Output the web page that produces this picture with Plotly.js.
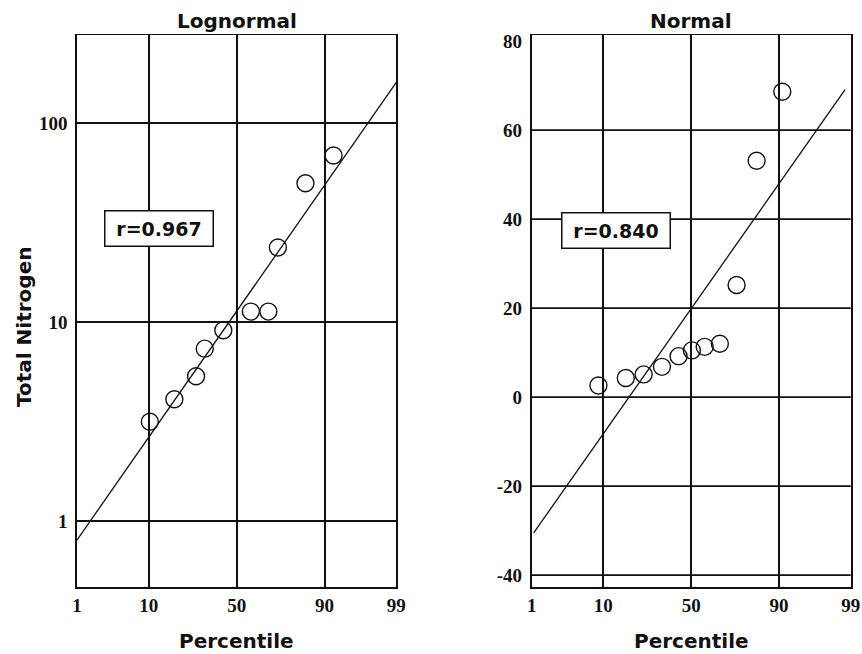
<!DOCTYPE html>
<html>
<head>
<meta charset="utf-8">
<script src="https://cdn.plot.ly/plotly-3.0.1.min.js"></script>
<style>html,body{margin:0;padding:0;background:#fff;}#chart{width:862px;height:654px;}</style>
</head>
<body>
<div id="chart"></div>
<script>
// ---- data ----
var percentileTicks = [1, 10, 50, 90, 99];
var percentileTickText = ['1', '10', '50', '90', '99'];

var logPct = [10.3, 18.2, 27.7, 32.1, 42.3, 58.2, 67.8, 72.6, 84.2, 92.1];
var logVal = [3.16, 4.10, 5.35, 7.36, 9.1, 11.3, 11.3, 23.7, 49.8, 68.6];
var logFitPct = [1, 99];
var logFitVal = [0.806, 159.7];
var logTicks = [1, 10, 100];
var logTickText = ['1', '10', '100'];

var normPct = [8.8, 17.0, 24.4, 33.5, 42.7, 50.4, 57.8, 66.2, 74.6, 83.0, 90.8];
var normVal = [2.6, 4.3, 5.1, 6.8, 9.2, 10.5, 11.3, 12.0, 25.2, 53.1, 68.6];
var normFitPct = [1.08, 98.76];
var normFitVal = [-30.5, 69.1];
var normTicks = [-40, -20, 0, 20, 40, 60, 80];
var normTickText = ['-40', '-20', '0', '20', '40', '60', '80'];
var normGrid = [-40, -20, 0, 20, 40, 60];

var panelTitles = ['Lognormal', 'Normal'];
var rLabels = ['r=0.967', 'r=0.840'];
var xTitle = 'Percentile';
var yTitle = 'Total Nitrogen';

// ---- normal probability scale (inverse normal CDF, Acklam) ----
function qnorm(p) {
  var a = [-3.969683028665376e+01, 2.209460984245205e+02, -2.759285104469687e+02, 1.383577518672690e+02, -3.066479806614716e+01, 2.506628277459239e+00];
  var b = [-5.447609879822406e+01, 1.615858368580409e+02, -1.556989798598866e+02, 6.680131188771972e+01, -1.328068155288572e+01];
  var c = [-7.784894002430293e-03, -3.223964580411365e-01, -2.400758277161838e+00, -2.549732539343734e+00, 4.374664141464968e+00, 2.938163982698783e+00];
  var d = [7.784695709041462e-03, 3.224671290700398e-01, 2.445134137142996e+00, 3.754408661907416e+00];
  var pl = 0.02425, q, r;
  if (p < pl) {
    q = Math.sqrt(-2 * Math.log(p));
    return (((((c[0]*q+c[1])*q+c[2])*q+c[3])*q+c[4])*q+c[5]) / ((((d[0]*q+d[1])*q+d[2])*q+d[3])*q+1);
  } else if (p <= 1 - pl) {
    q = p - 0.5; r = q*q;
    return (((((a[0]*r+a[1])*r+a[2])*r+a[3])*r+a[4])*r+a[5])*q / (((((b[0]*r+b[1])*r+b[2])*r+b[3])*r+b[4])*r+1);
  } else {
    q = Math.sqrt(-2 * Math.log(1 - p));
    return -(((((c[0]*q+c[1])*q+c[2])*q+c[3])*q+c[4])*q+c[5]) / ((((d[0]*q+d[1])*q+d[2])*q+d[3])*q+1);
  }
}
function toZ(arr) { return arr.map(function (v) { return qnorm(v / 100); }); }

var ink = '#111111';
var lineW = 1.8;
var tickFont = {family: '"Liberation Serif", "Times New Roman", serif', size: 19, color: ink, weight: 'bold'};
var textFont = {family: '"DejaVu Sans", Verdana, sans-serif', size: 20, color: ink, weight: 'bold'};

var marker = {symbol: 'circle-open', size: 17, color: ink, line: {color: ink, width: 1.4}};

var traces = [
  {x: toZ(logFitPct), y: logFitVal, xaxis: 'x', yaxis: 'y', mode: 'lines', line: {color: ink, width: 1.3}, hoverinfo: 'skip'},
  {x: toZ(logPct), y: logVal, xaxis: 'x', yaxis: 'y', mode: 'markers', marker: marker},
  {x: toZ(normFitPct), y: normFitVal, xaxis: 'x2', yaxis: 'y2', mode: 'lines', line: {color: ink, width: 1.3}, hoverinfo: 'skip'},
  {x: toZ(normPct), y: normVal, xaxis: 'x2', yaxis: 'y2', mode: 'markers', marker: marker}
];

var W = 862, H = 654;
var plotTop = 35.3, plotBottom = 586.7;
var yDom = [1 - plotBottom / H, 1 - plotTop / H];
var xDom1 = [77 / W, 396.3 / W];
var xDom2 = [531.7 / W, 850.7 / W];

function xAxis(dom, anchor) {
  return {
    domain: dom, anchor: anchor,
    range: [qnorm(0.01), qnorm(0.99)],
    tickmode: 'array', tickvals: toZ(percentileTicks), ticktext: percentileTickText,
    ticks: '', ticklabelstandoff: 1,
    showgrid: true, gridcolor: ink, gridwidth: lineW,
    showline: true, mirror: true, linecolor: ink, linewidth: lineW,
    zeroline: false, tickfont: tickFont, fixedrange: true
  };
}

var shapes = normGrid.map(function (v) {
  return {type: 'line', xref: 'x2 domain', yref: 'y2', x0: 0, x1: 1, y0: v, y1: v, line: {color: ink, width: lineW}, layer: 'below'};
});

function cx(dom) { return (dom[0] + dom[1]) / 2; }

var annotations = [
  {text: panelTitles[0], xref: 'paper', yref: 'paper', x: cx(xDom1), y: 1 - 21 / H, xanchor: 'center', yanchor: 'middle', showarrow: false, font: textFont},
  {text: panelTitles[1], xref: 'paper', yref: 'paper', x: cx(xDom2), y: 1 - 21 / H, xanchor: 'center', yanchor: 'middle', showarrow: false, font: textFont},
  {text: xTitle, xref: 'paper', yref: 'paper', x: cx(xDom1), y: 1 - 641 / H, xanchor: 'center', yanchor: 'middle', showarrow: false, font: textFont},
  {text: xTitle, xref: 'paper', yref: 'paper', x: cx(xDom2), y: 1 - 641 / H, xanchor: 'center', yanchor: 'middle', showarrow: false, font: textFont},
  {text: yTitle, xref: 'paper', yref: 'paper', x: 24 / W, y: 1 - 327 / H, xanchor: 'center', yanchor: 'middle', textangle: -90, showarrow: false, font: textFont},
  {text: rLabels[0], xref: 'paper', yref: 'paper', x: 159.3 / W, y: 1 - 228.8 / H, xanchor: 'center', yanchor: 'middle', showarrow: false,
   font: {family: textFont.family, size: 19, color: ink, weight: 'bold'}, bgcolor: '#ffffff', bordercolor: ink, borderwidth: 1.5, borderpad: 5, width: 97, height: 24},
  {text: rLabels[1], xref: 'paper', yref: 'paper', x: 616.35 / W, y: 1 - 230.3 / H, xanchor: 'center', yanchor: 'middle', showarrow: false,
   font: {family: textFont.family, size: 19, color: ink, weight: 'bold'}, bgcolor: '#ffffff', bordercolor: ink, borderwidth: 1.5, borderpad: 5, width: 97, height: 24}
];

var layout = {
  width: W, height: H,
  margin: {l: 0, r: 0, t: 0, b: 0},
  paper_bgcolor: '#ffffff', plot_bgcolor: '#ffffff',
  showlegend: false,
  xaxis: xAxis(xDom1, 'y'),
  xaxis2: xAxis(xDom2, 'y2'),
  yaxis: {
    domain: yDom, anchor: 'x', type: 'log',
    range: [-0.328, 2.44],
    tickmode: 'array', tickvals: logTicks, ticktext: logTickText,
    ticks: '', ticklabelstandoff: 4,
    showgrid: true, gridcolor: ink, gridwidth: lineW,
    showline: true, mirror: true, linecolor: ink, linewidth: lineW,
    zeroline: false, tickfont: tickFont, fixedrange: true
  },
  yaxis2: {
    domain: yDom, anchor: 'x2',
    range: [-42.6, 81.3],
    tickmode: 'array', tickvals: normTicks, ticktext: normTickText,
    ticks: '', ticklabelstandoff: 4,
    showgrid: false,
    showline: true, mirror: true, linecolor: ink, linewidth: lineW,
    zeroline: false, tickfont: tickFont, fixedrange: true
  },
  shapes: shapes,
  annotations: annotations
};

Plotly.newPlot('chart', traces, layout, {displayModeBar: false, staticPlot: true});
</script>
</body>
</html>
